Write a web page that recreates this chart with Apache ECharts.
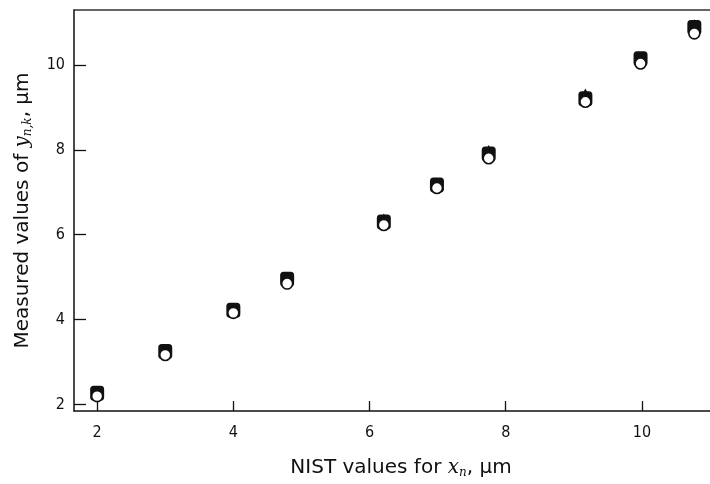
<!DOCTYPE html>
<html>
<head>
<meta charset="utf-8">
<script src="https://cdn.jsdelivr.net/npm/echarts@6/dist/echarts.min.js"></script>
<style>
  html, body { margin: 0; padding: 0; background: #fff; }
  #chart { width: 710px; height: 484px; }
</style>
</head>
<body>
<div id="chart"></div>
<script>
// NIST reference positions (µm) and the measured values for each position
const nistX = [2.0, 3.0, 4.0, 4.79, 6.21, 6.99, 7.75, 9.17, 9.98, 10.77];
const measuredSquare = [2.27, 3.25, 4.22, 4.95, 6.30, 7.17, 7.90, 9.20, 10.14, 10.88];
const measuredTriangle = [2.31, 3.22, 4.27, 4.98, 6.37, 7.19, 7.98, 9.31, 10.17, 10.94];
const measuredCircle = [2.20, 3.17, 4.16, 4.85, 6.23, 7.10, 7.80, 9.13, 10.03, 10.74];

const xTicks = [2, 4, 6, 8, 10];
const yTicks = [2, 4, 6, 8, 10];

function pairs(ys) {
  return nistX.map((x, i) => [x, ys[i]]);
}

const ink = '#111';
const tickFont = '"DejaVu Sans Condensed", "DejaVu Sans", sans-serif';
const titleFont = '"DejaVu Sans", sans-serif';

const titleRich = {
  i: { fontFamily: '"DejaVu Serif", serif', fontStyle: 'italic', fontSize: 20, color: ink },
  s: { fontFamily: '"DejaVu Serif", serif', fontStyle: 'italic', fontSize: 12, color: ink,
       verticalAlign: 'bottom', padding: [10, 0, 0, 0] }
};

const chart = echarts.init(document.getElementById('chart'));
chart.setOption({
  animation: false,
  backgroundColor: '#fff',
  grid: { left: 74, top: 10, right: 0, bottom: 70 },
  xAxis: [{
    type: 'value',
    min: 1.66,
    max: 11.0,
    position: 'bottom',
    splitLine: { show: false },
    axisLine: { lineStyle: { color: ink, width: 1.5 } },
    axisTick: { inside: true, length: 10, customValues: xTicks, lineStyle: { color: ink, width: 1.3 } },
    axisLabel: { customValues: xTicks, margin: 14, color: ink, fontFamily: tickFont, fontSize: 16 },
    name: 'NIST values for {i|x}{s|n}, μm',
    nameLocation: 'middle',
    nameGap: 46,
    nameTextStyle: { color: ink, fontFamily: titleFont, fontSize: 20, rich: titleRich, padding: [0, 0, 0, 18] }
  }, {
    type: 'value',
    min: 1.66,
    max: 11.0,
    position: 'top',
    splitLine: { show: false },
    axisLine: { lineStyle: { color: '#333', width: 1.5 } },
    axisTick: { show: false },
    axisLabel: { show: false }
  }],
  yAxis: {
    type: 'value',
    min: 1.85,
    max: 11.29,
    splitLine: { show: false },
    axisLine: { lineStyle: { color: ink, width: 1.5 } },
    axisTick: { inside: true, length: 12, customValues: yTicks, lineStyle: { color: ink, width: 1.3 } },
    axisLabel: { customValues: yTicks, margin: 9, color: ink, fontFamily: tickFont, fontSize: 16 },
    name: 'Measured values of {i|y}{s|n,k}, μm',
    nameLocation: 'middle',
    nameGap: 40,
    nameTextStyle: { color: ink, fontFamily: titleFont, fontSize: 20, rich: titleRich }
  },
  series: [{
    type: 'scatter',
    data: pairs(measuredSquare),
    symbol: 'roundRect',
    symbolSize: [14, 15],
    itemStyle: { color: ink, opacity: 1 },
    emphasis: { disabled: true },
    z: 2
  }, {
    type: 'scatter',
    data: pairs(measuredTriangle),
    symbol: 'triangle',
    symbolSize: [12, 11],
    itemStyle: { color: ink, opacity: 1 },
    emphasis: { disabled: true },
    z: 3
  }, {
    type: 'scatter',
    data: pairs(measuredCircle),
    symbol: 'circle',
    symbolSize: 11,
    itemStyle: { color: '#fff', borderColor: ink, borderWidth: 1.6, opacity: 1 },
    emphasis: { disabled: true },
    z: 4
  }]
});
</script>
</body>
</html>
